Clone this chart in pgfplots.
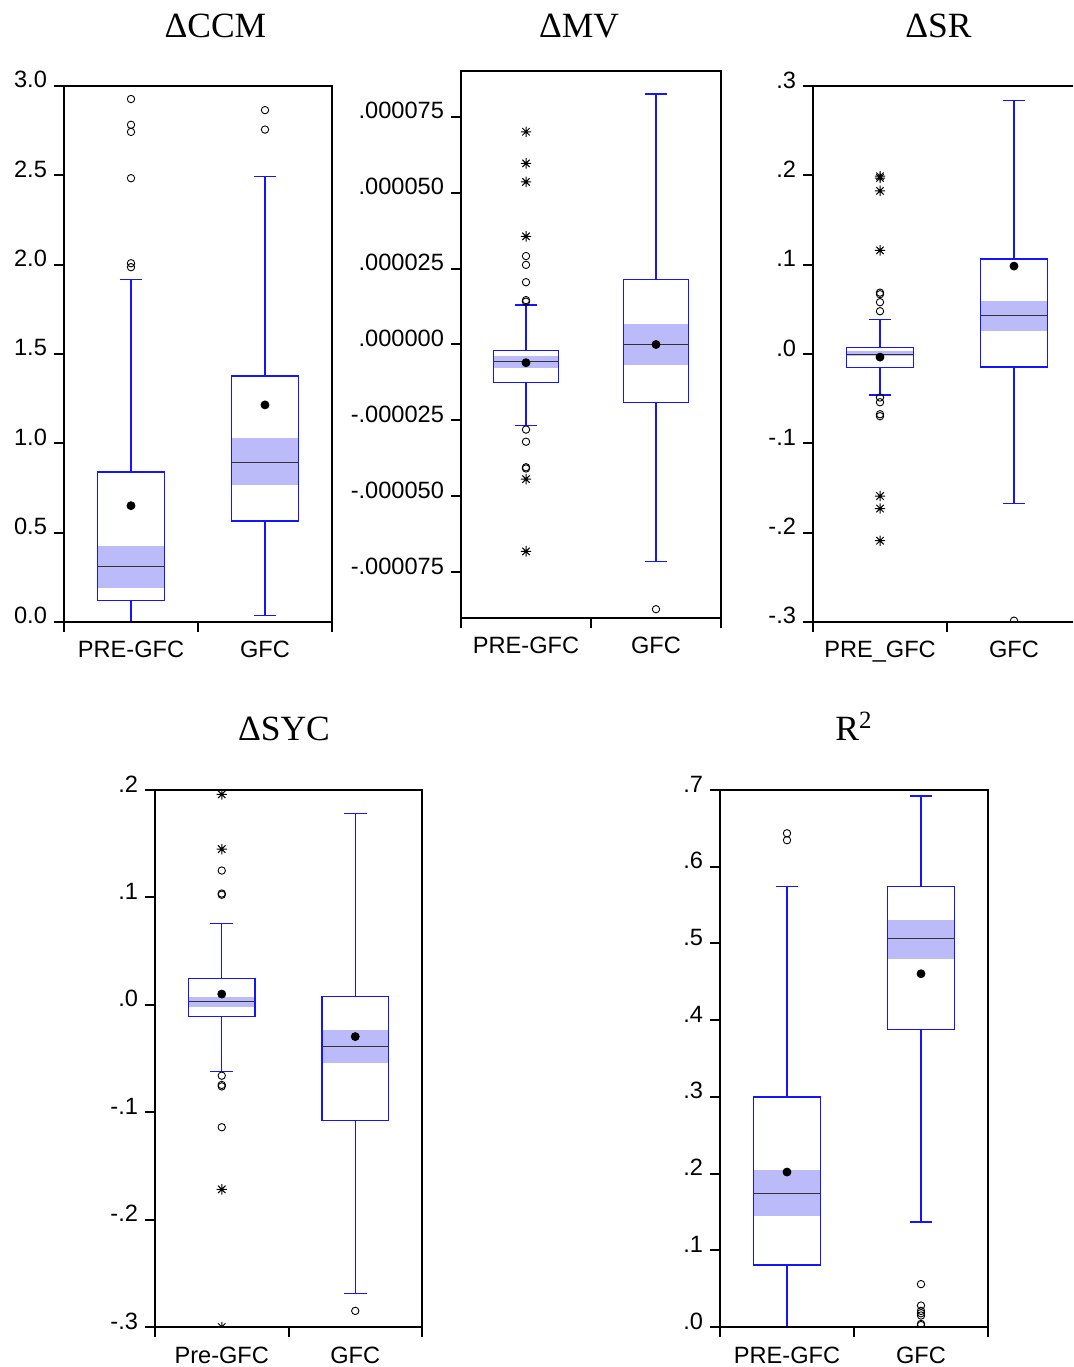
\documentclass[border=0pt]{standalone}
\usepackage{fontspec}
\setmainfont{Liberation Sans}
\newfontfamily\tms{Liberation Serif}
\usepackage{pgfplots}
\pgfplotsset{compat=1.18}
\usepgfplotslibrary{statistics}

\definecolor{boxblue}{RGB}{20,20,255}
\definecolor{band}{RGB}{187,187,250}

\newcommand{\tickfont}{\fontsize{11.8}{14}\selectfont}
\newcommand{\titlefont}{\tms\fontsize{17.75}{21}\selectfont}

% eight-spoke asterisk for far outliers
\pgfdeclareplotmark{star8}{%
  \pgfpathmoveto{\pgfqpoint{0pt}{\pgfplotmarksize}}\pgfpathlineto{\pgfqpoint{0pt}{-\pgfplotmarksize}}%
  \pgfpathmoveto{\pgfqpoint{\pgfplotmarksize}{0pt}}\pgfpathlineto{\pgfqpoint{-\pgfplotmarksize}{0pt}}%
  \pgfpathmoveto{\pgfqpoint{.7071\pgfplotmarksize}{.7071\pgfplotmarksize}}%
  \pgfpathlineto{\pgfqpoint{-.7071\pgfplotmarksize}{-.7071\pgfplotmarksize}}%
  \pgfpathmoveto{\pgfqpoint{-.7071\pgfplotmarksize}{.7071\pgfplotmarksize}}%
  \pgfpathlineto{\pgfqpoint{.7071\pgfplotmarksize}{-.7071\pgfplotmarksize}}%
  \pgfusepathqstroke}

\pgfplotsset{
  panel/.style={
    scale only axis,
    xmin=0, xmax=2,
    axis on top,
    clip marker paths=true,
    axis line style={line width=1pt},
    tick style={line width=1pt, black},
    tick align=outside,
    major tick length=5pt,
    xtick pos=lower, ytick pos=left,
    xtick={0,1,2}, xticklabels={,,},
    extra x ticks={0.5,1.5},
    extra x tick style={major tick length=0pt, xticklabel style={anchor=base, yshift=-18pt}},
    tick label style={font=\tickfont},
    yticklabel style={anchor=base east, yshift=-1pt},
    title style={font=\titlefont, anchor=base},
    boxplot/draw direction=y,
  },
  bx/.style={boxblue, line width=0.65pt, forget plot,
    boxplot/every box/.style={draw=boxblue, line width=0.65pt},
    boxplot/every whisker/.style={draw=boxblue, line width=0.65pt},
    boxplot/every median/.style={draw=black!80, line width=0.5pt}},
  meanpt/.style={only marks, mark=*, mark size=2pt, black},
  outc/.style={only marks, mark=o, mark size=1.85pt, black, line width=0.45pt},
  outs/.style={only marks, mark=star8, mark size=2.6pt, black, line width=0.5pt},
  bandfill/.style={fill=band, draw=none},
}

\begin{document}
\begin{tikzpicture}
\useasboundingbox (0,0) rectangle (536.5pt,683.5pt);
\clip (0,0) rectangle (536.5pt,683.5pt);

% ---- Delta CCM ----
\begin{axis}[panel, at={(32pt,372.5pt)}, anchor=south west,
  width=134pt, height=268pt,
  ymin=0, ymax=3,
  ytick={0,0.5,1,1.5,2,2.5,3},
  yticklabels={0.0,0.5,1.0,1.5,2.0,2.5,3.0},
  extra x tick labels={PRE-GFC,GFC},
  title={ΔCCM}, title style={at={(axis description cs:0.565,1.069)}}]
\addplot[bandfill] coordinates {(0.25,0.188)(0.75,0.188)(0.75,0.425)(0.25,0.425)};
\addplot[bandfill] coordinates {(1.25,0.764)(1.75,0.764)(1.75,1.029)(1.25,1.029)};
\addplot[bx, boxplot prepared={draw direction=y, draw position=0.5, lower whisker=0, lower quartile=0.122,
  median=0.308, upper quartile=0.839, upper whisker=1.915, box extend=0.5, whisker extend=0.17}] coordinates {};
\addplot[bx, boxplot prepared={draw direction=y, draw position=1.5, lower whisker=0.038, lower quartile=0.565,
  median=0.894, upper quartile=1.377, upper whisker=2.495, box extend=0.5, whisker extend=0.17}] coordinates {};
\addplot[meanpt] coordinates {(0.5,0.651)(1.5,1.215)};
\addplot[outc] coordinates {(0.5,2.927)(0.5,2.783)(0.5,2.743)(0.5,2.484)(0.5,2.008)(0.5,1.986)
  (1.5,2.865)(1.5,2.756)};
\end{axis}

% ---- Delta MV (values in units of 1e-6) ----
\begin{axis}[panel, at={(230.5pt,374.5pt)}, anchor=south west,
  width=130pt, height=273.5pt,
  ymin=-90, ymax=90,
  ytick={-75,-50,-25,0,25,50,75},
  yticklabels={-.000075,-.000050,-.000025,.000000,.000025,.000050,.000075},
  extra x tick labels={PRE-GFC,GFC},
  title={ΔMV}, title style={at={(axis description cs:0.454,1.040)}}]
\addplot[bandfill] coordinates {(0.25,-7.6)(0.75,-7.6)(0.75,-3.9)(0.25,-3.9)};
\addplot[bandfill] coordinates {(1.25,-6.9)(1.75,-6.9)(1.75,6.8)(1.25,6.8)};
\addplot[bx, boxplot prepared={draw direction=y, draw position=0.5, lower whisker=-26.7, lower quartile=-12.4,
  median=-5.6, upper quartile=-2.0, upper whisker=13.0, box extend=0.5, whisker extend=0.17}] coordinates {};
\addplot[bx, boxplot prepared={draw direction=y, draw position=1.5, lower whisker=-71.5, lower quartile=-19.2,
  median=0, upper quartile=21.5, upper whisker=82.4, box extend=0.5, whisker extend=0.17}] coordinates {};
\addplot[meanpt] coordinates {(0.5,-6.0)(1.5,0)};
\addplot[outc] coordinates {(0.5,29.1)(0.5,26.2)(0.5,20.5)(0.5,14.6)(0.5,14.1)
  (0.5,-28.0)(0.5,-32.0)(0.5,-40.4)(0.5,-40.8)(1.5,-87.1)};
\addplot[outs] coordinates {(0.5,70.0)(0.5,59.6)(0.5,53.5)(0.5,35.6)(0.5,-44.3)(0.5,-68.1)};
\end{axis}

% ---- Delta SR ----
\begin{axis}[panel, at={(406.5pt,372.5pt)}, anchor=south west,
  width=134pt, height=268pt,
  ymin=-0.3, ymax=0.3,
  ytick={-0.3,-0.2,-0.1,0,0.1,0.2,0.3},
  yticklabels={-.3,-.2,-.1,.0,.1,.2,.3},
  extra x tick labels={PRE\_GFC,GFC},
  title={ΔSR}, title style={at={(axis description cs:0.468,1.069)}}]
\addplot[bandfill] coordinates {(0.25,-0.0025)(0.75,-0.0025)(0.75,0.003)(0.25,0.003)};
\addplot[bandfill] coordinates {(1.25,0.0257)(1.75,0.0257)(1.75,0.0598)(1.25,0.0598)};
\addplot[bx, boxplot prepared={draw direction=y, draw position=0.5, lower whisker=-0.046, lower quartile=-0.0151,
  median=0.0, upper quartile=0.0071, upper whisker=0.0386, box extend=0.5, whisker extend=0.17}] coordinates {};
\addplot[bx, boxplot prepared={draw direction=y, draw position=1.5, lower whisker=-0.1675, lower quartile=-0.0146,
  median=0.043, upper quartile=0.1064, upper whisker=0.284, box extend=0.5, whisker extend=0.17}] coordinates {};
\addplot[meanpt] coordinates {(0.5,-0.0035)(1.5,0.0984)};
\addplot[outc] coordinates {(0.5,0.0687)(0.5,0.0669)(0.5,0.058)(0.5,0.0479)
  (0.5,-0.0487)(0.5,-0.054)(0.5,-0.0674)(0.5,-0.0696)(1.5,-0.2985)};
\addplot[outs] coordinates {(0.5,0.199)(0.5,0.197)(0.5,0.1826)(0.5,0.116)
  (0.5,-0.159)(0.5,-0.173)(0.5,-0.209)};
\end{axis}

% ---- Delta SYC ----
\begin{axis}[panel, at={(77.5pt,20pt)}, anchor=south west,
  width=133.5pt, height=268.5pt,
  ymin=-0.3, ymax=0.2,
  ytick={-0.3,-0.2,-0.1,0,0.1,0.2},
  yticklabels={-.3,-.2,-.1,.0,.1,.2},
  extra x tick labels={Pre-GFC,GFC},
  title={ΔSYC}, title style={at={(axis description cs:0.483,1.069)}}]
\addplot[bandfill] coordinates {(0.25,-0.0018)(0.75,-0.0018)(0.75,0.0071)(0.25,0.0071)};
\addplot[bandfill] coordinates {(1.25,-0.0546)(1.75,-0.0546)(1.75,-0.0232)(1.25,-0.0232)};
\addplot[bx, boxplot prepared={draw direction=y, draw position=0.5, lower whisker=-0.0618, lower quartile=-0.0111,
  median=0.0029, upper quartile=0.0246, upper whisker=0.0754, box extend=0.5, whisker extend=0.17}] coordinates {};
\addplot[bx, boxplot prepared={draw direction=y, draw position=1.5, lower whisker=-0.269, lower quartile=-0.108,
  median=-0.0389, upper quartile=0.0079, upper whisker=0.178, box extend=0.5, whisker extend=0.17}] coordinates {};
\addplot[meanpt] coordinates {(0.5,0.010)(1.5,-0.0296)};
\addplot[outc] coordinates {(0.5,0.125)(0.5,0.1036)(0.5,0.1025)
  (0.5,-0.066)(0.5,-0.0746)(0.5,-0.076)(0.5,-0.114)(1.5,-0.285)};
\addplot[outs] coordinates {(0.5,0.196)(0.5,0.145)(0.5,-0.1718)(0.5,-0.300)};
\end{axis}

% ---- R squared ----
\begin{axis}[panel, at={(360pt,20pt)}, anchor=south west,
  width=134pt, height=268.5pt,
  ymin=0, ymax=0.7,
  ytick={0,0.1,0.2,0.3,0.4,0.5,0.6,0.7},
  yticklabels={.0,.1,.2,.3,.4,.5,.6,.7},
  extra x tick labels={PRE-GFC,GFC},
  title={R\textsuperscript{2}}, title style={at={(axis description cs:0.5,1.069)}}]
\addplot[bandfill] coordinates {(0.25,0.1447)(0.75,0.1447)(0.75,0.2046)(0.25,0.2046)};
\addplot[bandfill] coordinates {(1.25,0.480)(1.75,0.480)(1.75,0.531)(1.25,0.531)};
\addplot[bx, boxplot prepared={draw direction=y, draw position=0.5, lower whisker=0, lower quartile=0.0808,
  median=0.1746, upper quartile=0.2999, upper whisker=0.574, box extend=0.5, whisker extend=0.17}] coordinates {};
\addplot[bx, boxplot prepared={draw direction=y, draw position=1.5, lower whisker=0.1367, lower quartile=0.388,
  median=0.506, upper quartile=0.574, upper whisker=0.692, box extend=0.5, whisker extend=0.17}] coordinates {};
\addplot[meanpt] coordinates {(0.5,0.202)(1.5,0.4605)};
\addplot[outc] coordinates {(0.5,0.6436)(0.5,0.6346)
  (1.5,0.0559)(1.5,0.0279)(1.5,0.021)(1.5,0.018)(1.5,0.015)(1.5,0.004)(1.5,0.0025)};
\end{axis}
\end{tikzpicture}
\end{document}
